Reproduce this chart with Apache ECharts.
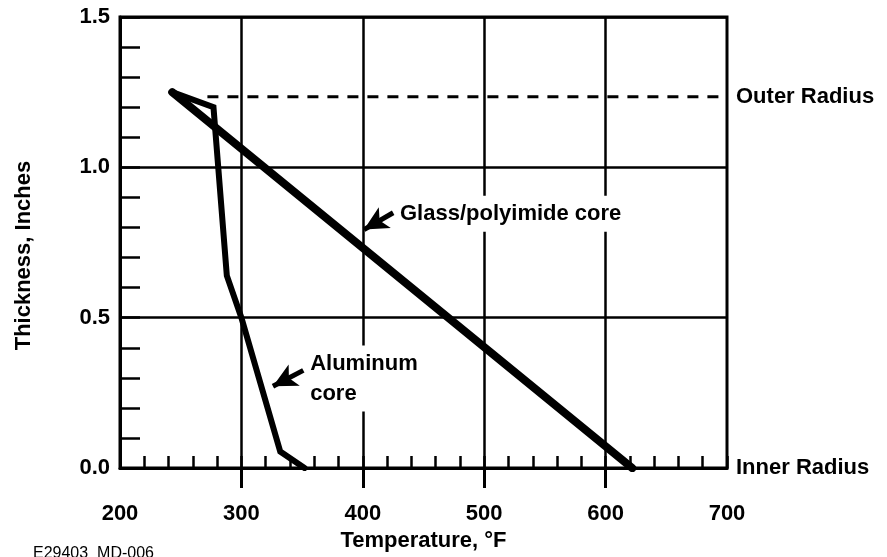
<!DOCTYPE html>
<html><head><meta charset="utf-8">
<script src="https://cdn.jsdelivr.net/npm/echarts@6/dist/echarts.min.js"></script>
<style>html,body{margin:0;padding:0;background:#fff}#c{width:887px;height:557px}</style>
</head><body><div id="c"></div>
<script>
// ---- data ----
const xTickLabels = [200, 300, 400, 500, 600, 700];
const yTickLabels = [0.0, 0.5, 1.0, 1.5];
const glassT = [243, 622];
const glassV = [1.25, 0];
const aluT = [243, 277, 288, 300, 332, 352];
const aluV = [1.25, 1.2, 0.64, 0.5, 0.055, 0];
const outerT = [272, 700];
const outerV = [1.235, 1.235];
const glassArrowT = [425, 401];
const glassArrowV = [0.849, 0.793];
const aluArrowT = [351, 326];
const aluArrowV = [0.325, 0.272];
const noteTexts = ['Glass/polyimide core', 'Aluminum\ncore', 'Outer Radius', 'Inner Radius'];
const noteT = [429, 355, 700, 700];
const noteV = [0.846, 0.298, 1.235, 0];

const F = '"Liberation Sans", Arial, Helvetica, sans-serif';
const BLK = '#000';
const pairs = (a, b) => a.map((t, i) => [t, b[i]]);
const txt = (size, weight) => ({ color: BLK, fontSize: size, fontWeight: weight || 'bold', fontFamily: F });

const chart = echarts.init(document.getElementById('c'), null, { renderer: 'canvas' });
chart.setOption({
  animation: false,
  backgroundColor: '#fff',
  title: {
    text: 'E29403  MD-006', left: 33, top: 546, padding: 0,
    textStyle: txt(16, 'normal')
  },
  grid: { left: 120, right: 160, top: 17, bottom: 83, show: true, borderColor: BLK, borderWidth: 3, containLabel: false },
  xAxis: [
    {
      type: 'value', min: 200, max: 700, interval: 100, position: 'bottom',
      axisLine: { show: true, lineStyle: { color: BLK, width: 3 } },
      axisTick: { show: true, inside: false, length: 20, customValues: [300, 400, 500, 600], lineStyle: { color: BLK, width: 3 } },
      axisLabel: Object.assign({ margin: 35, formatter: v => xTickLabels.includes(v) ? String(v) : '' }, txt(22)),
      splitLine: { show: true, lineStyle: { color: BLK, width: 2.5 } },
      name: 'Temperature, °F', nameLocation: 'middle', nameGap: 44,
      nameTextStyle: txt(22)
    },
    {
      type: 'value', min: 200, max: 700, interval: 20, position: 'bottom',
      axisLine: { show: false },
      axisTick: { show: true, inside: true, length: 12, lineStyle: { color: BLK, width: 2.5 } },
      axisLabel: { show: false }, splitLine: { show: false }
    }
  ],
  yAxis: [
    {
      type: 'value', min: 0, max: 1.5, interval: 0.5, position: 'left',
      axisLine: { show: true, lineStyle: { color: BLK, width: 3 } },
      axisTick: { show: false },
      axisLabel: Object.assign({ margin: 10, formatter: v => yTickLabels.some(t => Math.abs(t - v) < 1e-9) ? v.toFixed(1) : '' }, txt(22)),
      splitLine: { show: true, lineStyle: { color: BLK, width: 2.5 } },
      name: 'Thickness, Inches', nameLocation: 'middle', nameGap: 85,
      nameTextStyle: Object.assign({ padding: [0, 26, 0, 0] }, txt(22))
    },
    {
      type: 'value', min: 0, max: 1.5, interval: 0.1, position: 'left',
      axisLine: { show: false },
      axisTick: { show: true, inside: true, length: 20, lineStyle: { color: BLK, width: 2.5 } },
      axisLabel: { show: false }, splitLine: { show: false }
    }
  ],
  series: [
    {
      name: 'Outer Radius', type: 'line', data: pairs(outerT, outerV), symbol: 'none',
      lineStyle: { color: BLK, width: 3, type: [11, 9] }, silent: true, z: 3
    },
    {
      name: 'Glass/polyimide core', type: 'line', data: pairs(glassT, glassV), symbol: 'none',
      lineStyle: { color: BLK, width: 8, cap: 'round' }, silent: true, z: 4,
      markLine: {
        silent: true, symbol: ['none', 'arrow'], symbolSize: [18, 24],
        label: { show: false }, lineStyle: { color: BLK, width: 5, type: 'solid' },
        itemStyle: { color: BLK },
        data: [[{ coord: [glassArrowT[0], glassArrowV[0]] }, { coord: [glassArrowT[1], glassArrowV[1]] }]]
      }
    },
    {
      name: 'Aluminum core', type: 'line', data: pairs(aluT, aluV), symbol: 'none',
      lineStyle: { color: BLK, width: 6, cap: 'round', join: 'miter' }, silent: true, z: 4,
      markLine: {
        silent: true, symbol: ['none', 'arrow'], symbolSize: [18, 24],
        label: { show: false }, lineStyle: { color: BLK, width: 5, type: 'solid' },
        itemStyle: { color: BLK },
        data: [[{ coord: [aluArrowT[0], aluArrowV[0]] }, { coord: [aluArrowT[1], aluArrowV[1]] }]]
      }
    },
    {
      name: 'notes', type: 'scatter', symbolSize: 0, clip: false, silent: true, z: 5,
      itemStyle: { opacity: 1, color: BLK },
      data: noteTexts.map((s, i) => ({
        value: [noteT[i], noteV[i]],
        label: {
          show: true, position: 'right', distance: i >= 2 ? 7 : 0,
          formatter: s, lineHeight: 30,
          backgroundColor: i < 2 ? '#fff' : 'transparent', padding: [3, 2, 3, 2],
          color: BLK, fontSize: 22, fontWeight: 'bold', fontFamily: F
        }
      }))
    }
  ]
});
</script>
</body></html>
